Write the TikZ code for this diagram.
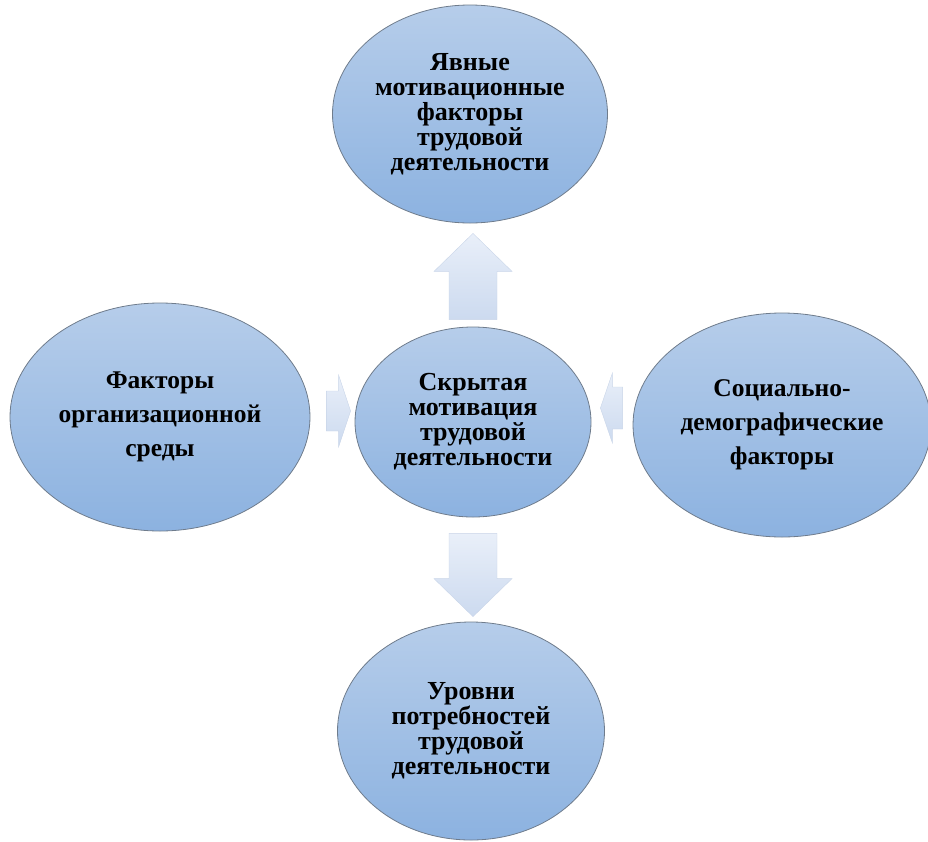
\documentclass[tikz,border=0pt]{standalone}
\usepackage{fontspec}
\setmainfont{Liberation Serif}
\usepackage{tikz}
\usetikzlibrary{calc, shapes.geometric}

\definecolor{ovaltop}{HTML}{B6CDEA}
\definecolor{ovalbot}{HTML}{8CB2E0}
\definecolor{ovalline}{HTML}{6F7C8C}
\definecolor{arrtop}{HTML}{E9EFF9}
\definecolor{arrbot}{HTML}{CCDAEF}
\definecolor{arrline}{HTML}{C9D5E8}

\begin{document}
\begin{tikzpicture}[
  x=1pt, y=-1pt,
  oval/.style={
    ellipse, draw=ovalline, line width=0.8pt,
    top color=ovaltop, bottom color=ovalbot,
    inner sep=0pt, align=center,
    font=\bfseries\fontsize{26}{25}\selectfont
  },
  wideoval/.style={oval, font=\bfseries\fontsize{25.5}{34}\selectfont},
  blockarr/.style={
    top color=arrtop, bottom color=arrbot,
    draw=arrline, line width=0.4pt
  },
]

%%% page frame
\useasboundingbox (0,0) rectangle (928,841);

%%% Centre oval
\node[oval, minimum width=236pt, minimum height=190pt] (ctr) at (473,422)
  {Скрытая\\мотивация\\трудовой\\деятельности};

%%% Top oval
\node[oval, minimum width=275pt, minimum height=218pt] (top) at (470,114)
  {Явные\\мотивационные\\факторы\\трудовой\\деятельности};

%%% Left oval
\node[wideoval, minimum width=300pt, minimum height=228pt] (lft) at (160,417)
  {Факторы\\организационной\\среды};

%%% Right oval (runs off the page)
\node[wideoval, minimum width=298pt, minimum height=224pt] (rgt) at (782,425)
  {Социально-\\демографические\\факторы};

%%% Bottom oval
\node[oval, minimum width=267pt, minimum height=218pt] (bot) at (471,731)
  {Уровни\\потребностей\\трудовой\\деятельности};

%%% Arrow ends
\coordinate (upTail) at ($(ctr.north)+(0,-7)$);
\coordinate (upTip)  at ($(upTail |- top.south)+(0,10)$);
\coordinate (dnTail) at ($(ctr.south)+(0,16)$);
\coordinate (dnTip)  at ($(dnTail |- bot.north)+(0,-5)$);
\coordinate (lfTail) at ($(lft.east)+(16,-6)$);
\coordinate (lfTip)  at ($(lfTail -| ctr.west)+(-4,0)$);
\coordinate (rtTail) at ($(rgt.west)+(-10,-17)$);
\coordinate (rtTip)  at ($(rtTail -| ctr.east)+(9,0)$);

%%% Up arrow
\coordinate (upBase) at ($(upTip)!38pt!(upTail)$);
\path[blockarr]
  ($(upTail)!24pt!90:(upTip)$) -- ($(upBase)!24pt!90:(upTip)$)
  -- ($(upBase)!39pt!90:(upTip)$) -- (upTip)
  -- ($(upBase)!39pt!-90:(upTip)$) -- ($(upBase)!24pt!-90:(upTip)$)
  -- ($(upTail)!24pt!-90:(upTip)$) -- cycle;

%%% Down arrow
\coordinate (dnBase) at ($(dnTip)!38pt!(dnTail)$);
\path[blockarr]
  ($(dnTail)!24pt!90:(dnTip)$) -- ($(dnBase)!24pt!90:(dnTip)$)
  -- ($(dnBase)!39pt!90:(dnTip)$) -- (dnTip)
  -- ($(dnBase)!39pt!-90:(dnTip)$) -- ($(dnBase)!24pt!-90:(dnTip)$)
  -- ($(dnTail)!24pt!-90:(dnTip)$) -- cycle;

%%% Arrow from the left oval
\coordinate (lfBase) at ($(lfTip)!12pt!(lfTail)$);
\path[blockarr]
  ($(lfTail)!20pt!90:(lfTip)$) -- ($(lfBase)!20pt!90:(lfTip)$)
  -- ($(lfBase)!36pt!90:(lfTip)$) -- (lfTip)
  -- ($(lfBase)!36pt!-90:(lfTip)$) -- ($(lfBase)!20pt!-90:(lfTip)$)
  -- ($(lfTail)!20pt!-90:(lfTip)$) -- cycle;

%%% Arrow from the right oval
\coordinate (rtBase) at ($(rtTip)!12pt!(rtTail)$);
\path[blockarr]
  ($(rtTail)!21pt!90:(rtTip)$) -- ($(rtBase)!21pt!90:(rtTip)$)
  -- ($(rtBase)!35pt!90:(rtTip)$) -- (rtTip)
  -- ($(rtBase)!35pt!-90:(rtTip)$) -- ($(rtBase)!21pt!-90:(rtTip)$)
  -- ($(rtTail)!21pt!-90:(rtTip)$) -- cycle;

\end{tikzpicture}
\end{document}
